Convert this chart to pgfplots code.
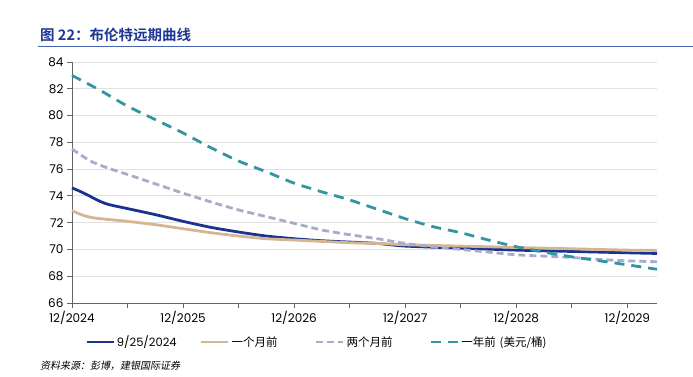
\documentclass[border=0pt]{standalone}
\usepackage{fontspec}
\usepackage{pgfplots}
\pgfplotsset{compat=1.18}
\setmainfont{Poppins}
\newfontfamily\cjk{Noto Sans CJK SC}
\newfontfamily\cjkb{Noto Sans CJK SC}[BoldFont={* Bold}]
\newfontfamily\cjkit{Noto Sans CJK SC}[FakeSlant=0.2]
\definecolor{titleblue}{RGB}{30,55,150}
\definecolor{titleline}{RGB}{70,100,175}
\definecolor{sblue}{RGB}{26,51,145}
\definecolor{stan}{RGB}{212,182,147}
\definecolor{sgray}{RGB}{168,172,203}
\definecolor{steal}{RGB}{50,150,162}
\definecolor{axgray}{RGB}{100,100,100}
\definecolor{gridgray}{RGB}{225,225,225}
\begin{document}
\begin{tikzpicture}
\useasboundingbox (0pt,0pt) rectangle (693pt,-377pt);
\node[anchor=base west, inner sep=0, text=titleblue, font=\cjkb\bfseries\fontsize{14.5}{14.5}\selectfont] at (40pt,-41pt) {图 22：布伦特远期曲线};
\draw[titleline, line width=1.5] (38pt,-46.5pt) -- (693pt,-46.5pt);
\begin{axis}[
  at={(72pt,-303pt)}, anchor=south west,
  scale only axis, width=585pt, height=241pt,
  xmin=0, xmax=63.2, ymin=66, ymax=84,
  axis x line*=bottom, axis y line*=left,
  axis line style={axgray, line width=0.8},
  xtick={0,12,24,36,48,60},
  xticklabels={12/2024,12/2025,12/2026,12/2027,12/2028,12/2029},
  minor xtick={6,18,30,42,54},
  ytick={66,68,...,84},
  ymajorgrids, grid style={gridgray, line width=0.8},
  tick style={axgray, line width=0.8},
  xtick align=outside, ytick align=outside,
  major tick length=5pt, minor tick length=5pt,
  tick label style={font=\fontsize{12}{12}\selectfont, text=black},
  /pgf/number format/assume math mode=true,
  clip=false,
  legend columns=4,
  legend image code/.code={\draw[#1] (0pt,0pt) -- (27pt,0pt);},
  legend style={at={(0.017,-0.162)}, anchor=west, draw=none, fill=none,
    font=\fontsize{11.5}{11.5}\selectfont,
    /tikz/every even column/.append style={column sep=0pt},
    nodes={text width=81pt, inner sep=2pt}},
  legend cell align=left,
]
\addplot[sblue, line width=2.8, smooth, tension=0.4] coordinates {
(0,74.6) (1,74.3) (2,73.95) (3,73.6) (4,73.35) (6,73.05) (9,72.6) (12,72.1) (15,71.65) (18,71.3) (21,71.0) (24,70.8) (27,70.65) (30,70.55) (33,70.45) (36,70.25) (42,70.1) (48,69.95) (54,69.85) (60,69.75) (63.2,69.7)};
\addlegendentry{9/25/2024}
\addplot[stan, line width=2.8, smooth, tension=0.4] coordinates {
(0,72.9) (1,72.6) (2,72.4) (3,72.3) (6,72.1) (9,71.85) (12,71.55) (15,71.25) (18,71.0) (21,70.8) (24,70.7) (27,70.6) (30,70.5) (33,70.45) (36,70.35) (42,70.25) (48,70.15) (54,70.05) (60,69.95) (63.2,69.93)};
\addlegendentry{\cjk 一个月前}
\addplot[sgray, line width=2.8, dash pattern=on 7pt off 4pt, smooth, tension=0.4] coordinates {
(0,77.5) (2,76.6) (4,76.05) (6,75.6) (9,74.9) (12,74.2) (15,73.55) (18,72.95) (21,72.45) (24,71.95) (27,71.45) (30,71.1) (33,70.8) (36,70.45) (39,70.2) (42,70.0) (45,69.8) (48,69.6) (51,69.5) (54,69.4) (57,69.25) (60,69.15) (63.2,69.08)};
\addlegendentry{\cjk 两个月前}
\addplot[steal, line width=2.8, dash pattern=on 10pt off 7pt, smooth, tension=0.4] coordinates {
(0,83.0) (3,81.9) (6,80.7) (9,79.7) (12,78.7) (15,77.6) (18,76.6) (21,75.8) (24,74.95) (27,74.3) (30,73.7) (33,73.0) (36,72.3) (39,71.7) (42,71.25) (45,70.7) (48,70.2) (51,69.8) (54,69.45) (57,69.15) (60,68.85) (63.2,68.52)};
\addlegendentry[text width=110pt]{\cjk 一年前 (美元/桶)}
\end{axis}
\node[anchor=base west, inner sep=0, font=\cjkit\fontsize{10}{10}\selectfont] at (40pt,-369pt) {资料来源：彭博，建银国际证券};
\end{tikzpicture}
\end{document}
